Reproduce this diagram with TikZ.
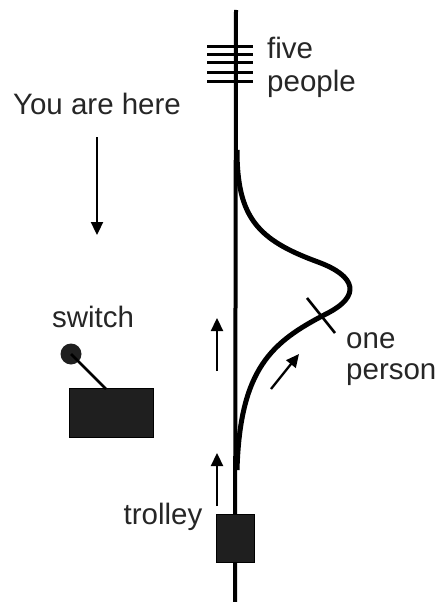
\documentclass[tikz,border=0pt]{standalone}
\usepackage{fontspec}
\setmainfont{Liberation Sans}
\usetikzlibrary{arrows.meta,positioning}

\begin{document}
\begin{tikzpicture}[x=1pt,y=-1pt,every node/.style={font=\fontsize{29.5}{31}\selectfont,text=black!85,inner sep=0pt},
  track/.style={line width=4pt},
  arr/.style={-{Triangle[length=13pt,width=12pt]},line width=2.3pt},
  blk/.style={draw,fill=black!88,line width=1pt}]
\useasboundingbox (0,0) rectangle (439,602);
% main track and side track
\coordinate (top) at (236,10);
\coordinate (bot) at (235,602);
\draw[track] (top) -- (bot);
\draw[line width=5pt] (237,150) .. controls (237,218) and (258,240) .. (318,262)
  .. controls (356,276) and (362,296) .. (326,314)
  .. controls (272,342) and (240,368) .. (237,470);
\draw[line width=2.6pt] (307,298) -- (335,333);
% five people
\foreach \y in {47,55,63,72,81} \draw[line width=3pt] (207,\y) -- (253,\y);
\node[anchor=west,align=left,font=\fontsize{29.5}{33}\selectfont] (five) at (267,67) {five\\people};
% labels
\node (here) at (97,104) {You are here};
\coordinate (h1) at (97,137);
\coordinate (h2) at (97,235);
\draw[arr] (h1) -- (h2);
\node[anchor=west,align=left] (one) at (346,359) {one\\person};
\node (trol) at (163,517) {trolley};
% switch
\node[blk,minimum width=84pt,minimum height=49pt] (box) at (111,413) {};
\node[circle,fill=black!88,minimum size=21pt] (knob) at (71,354) {};
\draw[line width=2.5pt] (knob.center) -- (106,389);
\node (sw) at (93,317) {switch};
% trolley
\node[blk,minimum width=38pt,minimum height=48pt] (car) at (235,538) {};
% arrows
\draw[arr] (217,371) -- (217,318);
\draw[arr] (271,389) -- (299,354);
\draw[arr] (217,506) -- (217,453);
\end{tikzpicture}
\end{document}
